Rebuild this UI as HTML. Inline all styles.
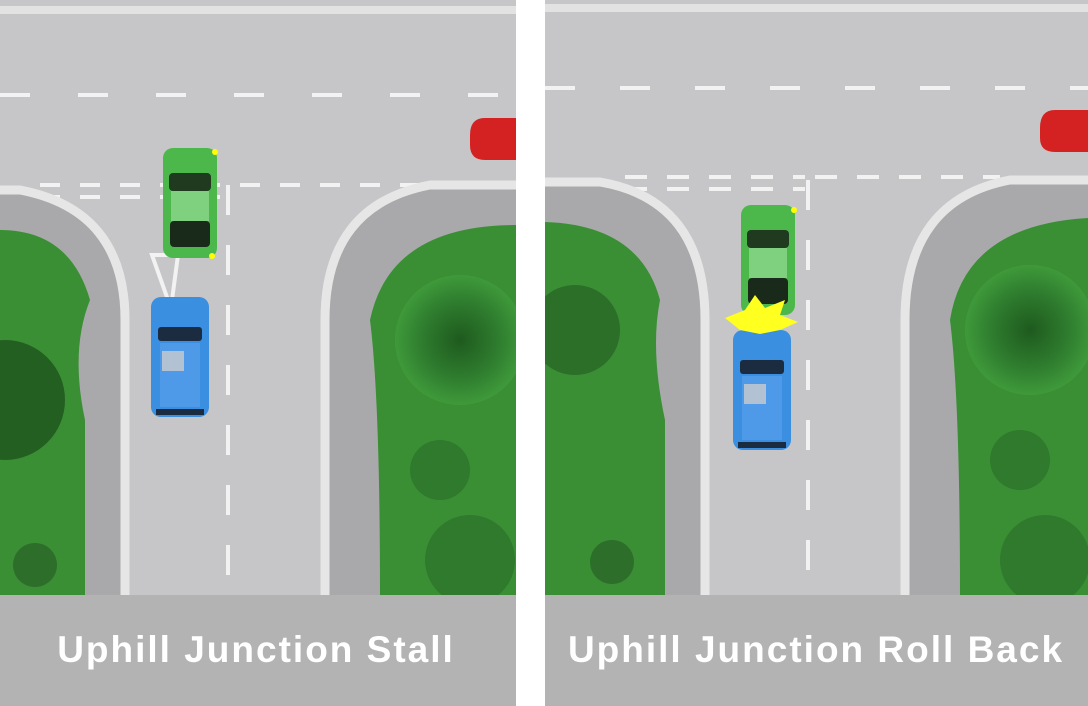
<!DOCTYPE html>
<html><head><style>body{margin:0;background:#fff}svg{display:block}</style></head><body>
<svg width="1088" height="706" viewBox="0 0 1088 706" xmlns="http://www.w3.org/2000/svg">
<defs>
<clipPath id="cl"><rect x="0" y="0" width="516" height="595"/></clipPath>
<clipPath id="cr"><rect x="545" y="0" width="543" height="595"/></clipPath>
<radialGradient id="tree" cx="50%" cy="50%" r="50%"><stop offset="0" stop-color="#1e5a1e"/><stop offset="0.6" stop-color="#2f7d2f"/><stop offset="1" stop-color="#3f9a3a"/></radialGradient>
<g id="green"><rect x="-27" y="-55" width="54" height="110" rx="10" fill="#4cb84c"/><rect x="-21" y="-30" width="42" height="18" rx="4" fill="#1f3a1f"/><rect x="-19" y="-12" width="38" height="30" fill="#7fd07f"/><rect x="-20" y="18" width="40" height="26" rx="4" fill="#1a2a1a"/></g>
<g id="blue"><rect x="-29" y="-60" width="58" height="120" rx="10" fill="#3a8fe0"/><rect x="-22" y="-30" width="44" height="14" rx="3" fill="#1c2c40"/><rect x="-20" y="-14" width="40" height="64" fill="#4f9ae8"/><rect x="-18" y="-6" width="22" height="20" fill="#ccc" opacity=".8"/><rect x="-24" y="52" width="48" height="6" fill="#1c2c40"/></g>
</defs>
<!-- LEFT PANEL -->
<g clip-path="url(#cl)">
<rect x="0" y="0" width="516" height="595" fill="#c6c6c8"/>
<rect x="0" y="6" width="516" height="8" fill="#e2e2e2"/>
<line x1="0" y1="95" x2="516" y2="95" stroke="#f2f2f2" stroke-width="4" stroke-dasharray="30 48"/>
<g stroke="#f2f2f2" stroke-width="4" stroke-dasharray="20 20"><line x1="40" y1="185" x2="225" y2="185"/><line x1="40" y1="197" x2="225" y2="197"/><line x1="240" y1="185" x2="420" y2="185"/></g>
<line x1="228" y1="185" x2="228" y2="600" stroke="#f2f2f2" stroke-width="4" stroke-dasharray="30 30"/>
<path d="M0,190 H20 Q125,210 125,320 V595 H0 Z" fill="#a9a9ab"/>
<path d="M0,190 H20 Q125,210 125,320 V595" fill="none" stroke="#e6e6e6" stroke-width="9"/>
<path d="M0,230 Q70,230 90,300 Q70,350 85,420 V595 H0 Z" fill="#3a8f34"/>
<circle cx="5" cy="400" r="60" fill="#245f22"/><circle cx="35" cy="565" r="22" fill="#2c6e2a"/>
<path d="M516,185 H430 Q325,205 325,320 V595 H516 Z" fill="#a9a9ab"/>
<path d="M516,185 H430 Q325,205 325,320 V595" fill="none" stroke="#e6e6e6" stroke-width="9"/>
<path d="M516,225 Q390,225 370,320 Q380,400 380,595 H516 Z" fill="#3a8f34"/>
<circle cx="460" cy="340" r="65" fill="url(#tree)"/><circle cx="440" cy="470" r="30" fill="#2f7a2c"/><circle cx="470" cy="560" r="45" fill="#2f7a2c"/>
<path d="M152,255 H178 L172,300 H168 Z" fill="none" stroke="#f2f2f2" stroke-width="4"/>
<use href="#green" x="190" y="203"/>
<circle cx="215" cy="152" r="3" fill="#ff0"/><circle cx="212" cy="256" r="3" fill="#ff0"/>
<use href="#blue" x="180" y="357"/>
<path d="M470,135 Q470,118 485,118 H516 V160 H485 Q470,160 470,145 Z" fill="#d42222"/>
</g>
<rect x="0" y="595" width="516" height="111" fill="#b3b3b3"/>
<text x="256" y="662" text-anchor="middle" font-family="Liberation Sans, sans-serif" font-size="37" font-weight="bold" fill="#fff" letter-spacing="2">Uphill Junction Stall</text>
<!-- RIGHT PANEL -->
<g clip-path="url(#cr)">
<rect x="545" y="0" width="543" height="595" fill="#c6c6c8"/>
<rect x="545" y="4" width="543" height="8" fill="#e2e2e2"/>
<line x1="545" y1="88" x2="1088" y2="88" stroke="#f2f2f2" stroke-width="4" stroke-dasharray="30 45"/>
<g stroke="#f2f2f2" stroke-width="4" stroke-dasharray="22 20"><line x1="625" y1="177" x2="805" y2="177"/><line x1="625" y1="189" x2="805" y2="189"/><line x1="815" y1="177" x2="1000" y2="177"/></g>
<line x1="808" y1="180" x2="808" y2="600" stroke="#f2f2f2" stroke-width="4" stroke-dasharray="30 30"/>
<path d="M545,182 H600 Q705,200 705,320 V595 H545 Z" fill="#a9a9ab"/>
<path d="M545,182 H600 Q705,200 705,320 V595" fill="none" stroke="#e6e6e6" stroke-width="9"/>
<path d="M545,222 Q640,225 660,300 Q650,350 665,420 V595 H545 Z" fill="#3a8f34"/>
<circle cx="575" cy="330" r="45" fill="#2b6f28"/><circle cx="612" cy="562" r="22" fill="#2c6e2a"/>
<path d="M1088,180 H1010 Q905,200 905,320 V595 H1088 Z" fill="#a9a9ab"/>
<path d="M1088,180 H1010 Q905,200 905,320 V595" fill="none" stroke="#e6e6e6" stroke-width="9"/>
<path d="M1088,218 Q965,225 950,320 Q960,400 960,595 H1088 Z" fill="#3a8f34"/>
<circle cx="1030" cy="330" r="65" fill="url(#tree)"/><circle cx="1020" cy="460" r="30" fill="#2f7a2c"/><circle cx="1045" cy="560" r="45" fill="#2f7a2c"/>
<use href="#green" x="768" y="260"/>
<circle cx="794" cy="210" r="3" fill="#ff0"/>
<use href="#blue" x="762" y="390"/>
<polygon points="725,318 745,310 755,295 765,308 785,300 780,315 798,322 780,330 760,334 740,330" fill="#ffff20"/>
<path d="M1040,128 Q1040,110 1055,110 H1088 V152 H1055 Q1040,152 1040,138 Z" fill="#d42222"/>
</g>
<rect x="545" y="595" width="543" height="111" fill="#b3b3b3"/>
<text x="816" y="662" text-anchor="middle" font-family="Liberation Sans, sans-serif" font-size="37" font-weight="bold" fill="#fff" letter-spacing="2">Uphill Junction Roll Back</text>
</svg>
</body></html>
